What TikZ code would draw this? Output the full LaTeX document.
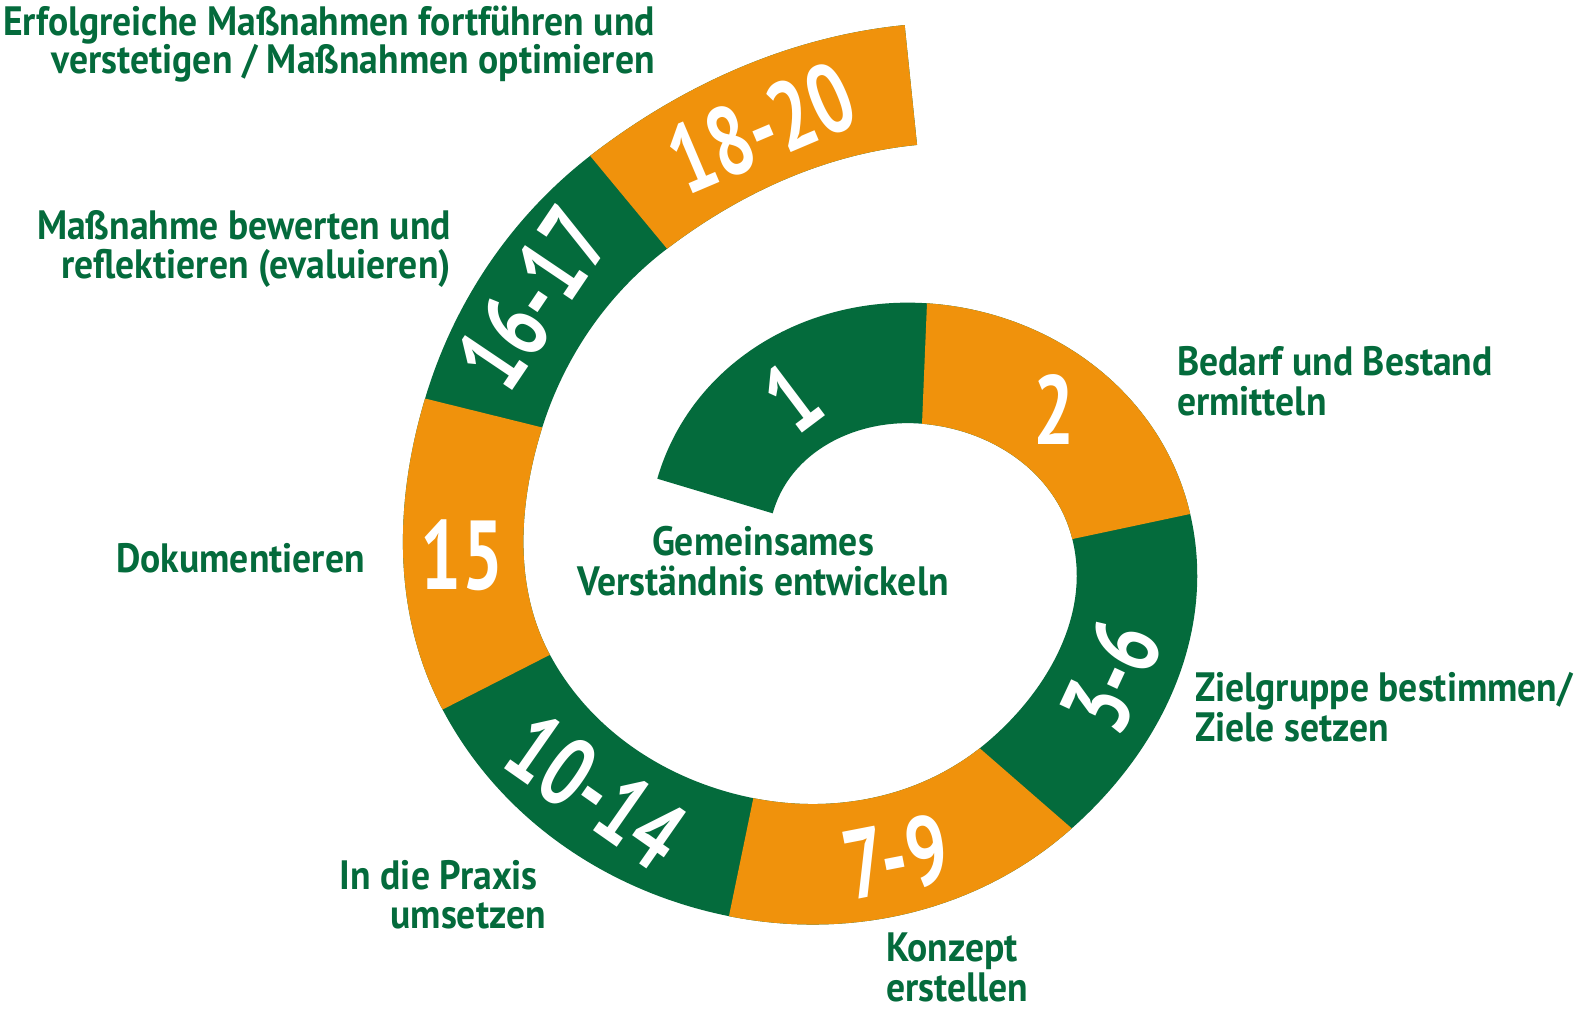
\documentclass[tikz,border=0pt]{standalone}
\usepackage{fontspec}
\newfontfamily\labfont{PT Sans}[FakeStretch=0.918]
\newfontfamily\numfont{PT Sans}[FakeStretch=0.74]
\definecolor{sgreen}{HTML}{046B3C}
\definecolor{sorange}{HTML}{F0920C}
\begin{document}
\begin{tikzpicture}[x=1pt,y=-1pt,
  band/.style={line width=120.5pt, line cap=butt, line join=round},
  lab/.style={text=sgreen, font=\labfont\bfseries\fontsize{41}{39.5}\selectfont, inner sep=0pt},
  num/.style={text=white, font=\numfont\bfseries\fontsize{98}{98}\selectfont, inner sep=0pt}]
\useasboundingbox (0,0) rectangle (1579,1013);
\fill[white] (0,0) rectangle (1579,1013);
% midline of the spiral band
\coordinate (m0) at (715,496);
\coordinate (m1) at (924.5,363.5);
\coordinate (m2) at (1131.25,526.5);
\coordinate (m3) at (1025.85,788.4);
\coordinate (m4) at (741.15,857.15);
\coordinate (m5) at (496.25,682.15);
\coordinate (m6) at (483.65,413);
\coordinate (m7) at (628.6,202.3);
\coordinate (m8) at (910.85,85);
\coordinate (c0a) at (740.63,406.60);
\coordinate (c1b) at (831.75,356.69);
\coordinate (c1a) at (1021.44,370.62);
\coordinate (c2b) at (1108.73,431.94);
\coordinate (c2a) at (1154.79,625.34);
\coordinate (c3b) at (1103.34,722.69);
\coordinate (c3a) at (947.44,854.89);
\coordinate (c4b) at (841.96,877.29);
\coordinate (c4a) at (637.80,836.50);
\coordinate (c5b) at (545.74,775.21);
\coordinate (c5a) at (452.40,599.69);
\coordinate (c6b) at (456.34,502.32);
\coordinate (c6a) at (509.18,329.51);
\coordinate (c7b) at (559.34,255.45);
\coordinate (c7a) at (711.03,139.05);
\coordinate (c8b) at (807.45,95.14);
\def\spiralpath{(m0) .. controls (c0a) and (c1b) .. (m1)
  .. controls (c1a) and (c2b) .. (m2)
  .. controls (c2a) and (c3b) .. (m3)
  .. controls (c3a) and (c4b) .. (m4)
  .. controls (c4a) and (c5b) .. (m5)
  .. controls (c5a) and (c6b) .. (m6)
  .. controls (c6a) and (c7b) .. (m7)
  .. controls (c7a) and (c8b) .. (m8)}
% whole band in green
\draw[band, sgreen] \spiralpath;
% orange steps, cut along the step boundaries
\begin{scope}
  \clip (921.25,442.15) -- (933.25,151.75) -- (1336.9,482.75) -- (1054.9,542.75) -- cycle;
  \draw[band, sorange] \spiralpath;
\end{scope}
\begin{scope}
  \clip (966.24,736.53) -- (1186.3,928.05) -- (698.6,1063.1) -- (756.95,780.64) -- cycle;
  \draw[band, sorange] \spiralpath;
\end{scope}
\begin{scope}
  \clip (565.5,646.85) -- (309.9,777.2) -- (278.4,362.25) -- (559.9,431.85) -- cycle;
  \draw[band, sorange] \spiralpath;
\end{scope}
\begin{scope}
  \clip (678.13,262.1) -- (495.25,41.3) -- (600,-100) -- (1050,-100) -- (1050,220) -- cycle;
  \draw[band, sorange] \spiralpath;
\end{scope}
% step numbers
\node[num, rotate=37] (n1) at (792,397) {1};
\node[num] (n2) at (1054.5,410) {2};
\node[num, rotate=65] (n3) at (1111,676) {3-6};
\node[num, rotate=11] (n7) at (896,857) {7-9};
\node[num, rotate=-35] (n10) at (596,791) {10-14};
\node[num] (n15) at (462,555) {15};
\node[num, rotate=56] (n16) at (533,298) {16-17};
\node[num, rotate=23] (n18) at (761,128) {18-20};
% labels
\node[lab, anchor=base east] (t1a) at (655,35) {Erfolgreiche Maßnahmen fortführen und};
\node[lab, anchor=base east] (t1b) at (655,73.5) {verstetigen / Maßnahmen optimieren};
\node[lab, anchor=base east] (t2a) at (451,239.5) {Maßnahme bewerten und};
\node[lab, anchor=base east] (t2b) at (451,278.5) {reflektieren (evaluieren)};
\node[lab, anchor=base east] (t3) at (365,572.5) {Dokumentieren};
\node[lab, anchor=base east] (t4a) at (538,889) {In die Praxis};
\node[lab, anchor=base east] (t4b) at (546,928.5) {umsetzen};
\node[lab, anchor=base west] (t5a) at (886,961.5) {Konzept};
\node[lab, anchor=base west] (t5b) at (886,1001.5) {erstellen};
\node[lab, anchor=base west] (t6a) at (1195,701.5) {Zielgruppe bestimmen/};
\node[lab, anchor=base west] (t6b) at (1195,741) {Ziele setzen};
\node[lab, anchor=base west] (t7a) at (1177,375) {Bedarf und Bestand};
\node[lab, anchor=base west] (t7b) at (1177,415) {ermitteln};
\node[lab, anchor=base] (t8a) at (763,555) {Gemeinsames};
\node[lab, anchor=base] (t8b) at (763,595) {Verständnis entwickeln};
\end{tikzpicture}
\end{document}
